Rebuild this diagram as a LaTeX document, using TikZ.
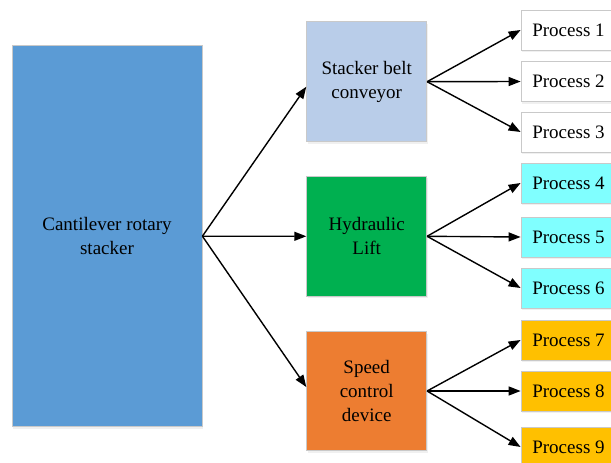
\documentclass[tikz,border=0pt]{standalone}
\usepackage{fontspec}
\setmainfont{Liberation Serif}
\usetikzlibrary{arrows.meta,shadows}
\definecolor{bigblue}{HTML}{5B9BD5}
\definecolor{lightblue}{HTML}{B9CDE9}
\definecolor{hydgreen}{HTML}{00B050}
\definecolor{spdorange}{HTML}{ED7D31}
\definecolor{procyan}{HTML}{80FFFF}
\definecolor{progold}{HTML}{FFC000}
\definecolor{boxline}{HTML}{C9C9C9}
\begin{document}
\begin{tikzpicture}[x=1pt,y=-1pt,
  box/.style={draw=boxline,line width=0.8pt,inner sep=0pt,align=center,
    font=\fontsize{19}{24}\selectfont,
    drop shadow={opacity=0.12,shadow xshift=1pt,shadow yshift=-2pt}},
  midbox/.style={box,minimum width=120pt,minimum height=120pt},
  procbox/.style={box,minimum width=95pt,minimum height=40pt},
  arr/.style={line width=1.4pt,-{Triangle[length=12pt,width=9pt]}}]
\useasboundingbox (0,0) rectangle (611,463);
\clip (0,0) rectangle (611,463);
\node[box,fill=bigblue,minimum width=190pt,minimum height=381pt] (big) at (107,236.2) {Cantilever rotary\\stacker};
\node[midbox,fill=lightblue] (sbc) at (366.7,81.7) {Stacker belt\\conveyor};
\node[midbox,fill=hydgreen] (hyd) at (366.7,236.3) {Hydraulic\\Lift};
\node[midbox,fill=spdorange,minimum height=119pt] (spd) at (366.7,391) {Speed\\control\\device};
\node[procbox,fill=white] (p1) at (568.5,30) {Process 1};
\node[procbox,fill=white] (p2) at (568.5,81.5) {Process 2};
\node[procbox,fill=white] (p3) at (568.5,132) {Process 3};
\node[procbox,fill=procyan] (p4) at (568.5,183) {Process 4};
\node[procbox,fill=procyan] (p5) at (568.5,237) {Process 5};
\node[procbox,fill=procyan] (p6) at (568.5,288) {Process 6};
\node[procbox,fill=progold] (p7) at (568.5,340) {Process 7};
\node[procbox,fill=progold] (p8) at (568.5,391) {Process 8};
\node[procbox,fill=progold] (p9) at (568.5,447) {Process 9};
\draw[arr] (big.east) -- ([yshift=-5pt]sbc.west);
\draw[arr] (big.east) -- (hyd.west);
\draw[arr] (big.east) -- ([yshift=4pt]spd.west);
\foreach \s/\a/\b/\c in {sbc/p1/p2/p3,hyd/p4/p5/p6,spd/p7/p8/p9}{
  \draw[arr] (\s.east) -- (\a.west);
  \draw[arr] (\s.east) -- (\b.west);
  \draw[arr] (\s.east) -- (\c.west);
}
\end{tikzpicture}
\end{document}
